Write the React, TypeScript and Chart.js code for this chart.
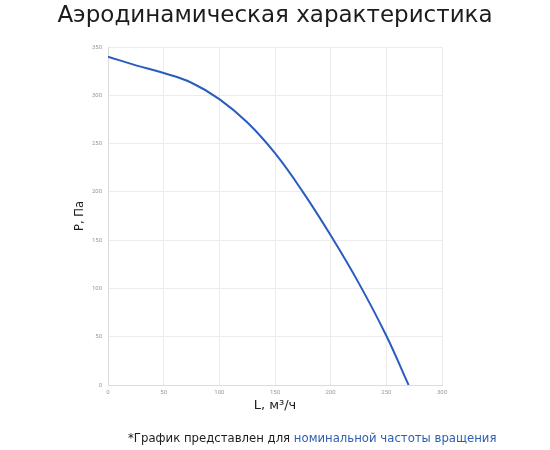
import { useEffect, useRef } from "react"
import { Chart, registerables } from "chart.js"

Chart.register(...registerables)

// Airflow L, m³/h and pressure P, Pa
const flow = [0, 25, 50, 75, 100, 125, 150, 175, 200, 225, 250, 270]
const pressure = [340, 331, 323, 313, 296, 272, 240, 200, 155, 106, 51, 0]

const xTicks = [0, 50, 100, 150, 200, 250, 300]
const yTicks = [0, 50, 100, 150, 200, 250, 300, 350]

export default function App() {
  const chartRef = useRef<HTMLCanvasElement>(null)
  const chartInstance = useRef<Chart | null>(null)

  useEffect(() => {
    document.body.style.margin = "0"
    if (!chartRef.current) return
    if (chartInstance.current) chartInstance.current.destroy()
    const ctx = chartRef.current.getContext("2d")
    if (!ctx) return

    chartInstance.current = new Chart(ctx, {
      type: "line",
      data: {
        datasets: [
          {
            label: "P",
            data: flow.map((x, i) => ({ x, y: pressure[i] })),
            borderColor: "#2a5cc0",
            borderWidth: 2,
            pointRadius: 0,
            tension: 0.4,
          },
        ],
      },
      options: {
        responsive: false,
        animation: false,
        layout: { padding: { top: 47, right: 108, bottom: 0, left: 0 } },
        plugins: { legend: { display: false }, tooltip: { enabled: false } },
        scales: {
          x: {
            type: "linear",
            min: 0,
            max: 300,
            afterBuildTicks: (s) => {
              s.ticks = xTicks.map((v) => ({ value: v }))
            },
            afterFit: (s) => {
              s.height = 65
            },
            grid: { color: "#ececec", drawTicks: false },
            border: { color: "#dcdcdc" },
            ticks: { color: "#999", font: { size: 6, family: "Roboto" }, padding: 4 },
            title: {
              display: true,
              text: "L, м³/ч",
              color: "#1c1c1c",
              font: { size: 13, weight: "normal", family: "DejaVu Sans" },
              padding: { top: 0, bottom: 37 },
            },
          },
          y: {
            min: 0,
            max: 350,
            afterBuildTicks: (s) => {
              s.ticks = yTicks.map((v) => ({ value: v }))
            },
            afterFit: (s) => {
              s.width = 108
            },
            grid: { color: "#ececec", drawTicks: false },
            border: { color: "#dcdcdc" },
            ticks: { color: "#999", font: { size: 6, family: "Roboto" }, padding: 6 },
            title: {
              display: true,
              text: "P, Па",
              color: "#1c1c1c",
              font: { size: 11.5, weight: "normal", family: "DejaVu Sans" },
              padding: { top: 73, bottom: 0 },
            },
          },
        },
      },
    })

    return () => {
      if (chartInstance.current) {
        chartInstance.current.destroy()
        chartInstance.current = null
      }
    }
  }, [])

  return (
    <div style={{ position: "relative", width: 550, height: 450, background: "#fff", fontFamily: "DejaVu Sans" }}>
      <canvas ref={chartRef} width={550} height={450} style={{ position: "absolute", left: 0, top: 0 }}></canvas>
      <div
        style={{
          position: "absolute",
          top: 0,
          left: 0,
          width: 550,
          textAlign: "center",
          fontSize: 23,
          color: "#1c1c1c",
          lineHeight: "28px",
        }}
      >
        Аэродинамическая характеристика
      </div>
      <div
        style={{
          position: "absolute",
          top: 430,
          left: 128,
          fontSize: 11.7,
          color: "#1c1c1c",
          whiteSpace: "nowrap",
          lineHeight: "16px",
        }}
      >
        *График представлен для <span style={{ color: "#2c5fb0" }}>номинальной частоты вращения</span>
      </div>
    </div>
  )
}
